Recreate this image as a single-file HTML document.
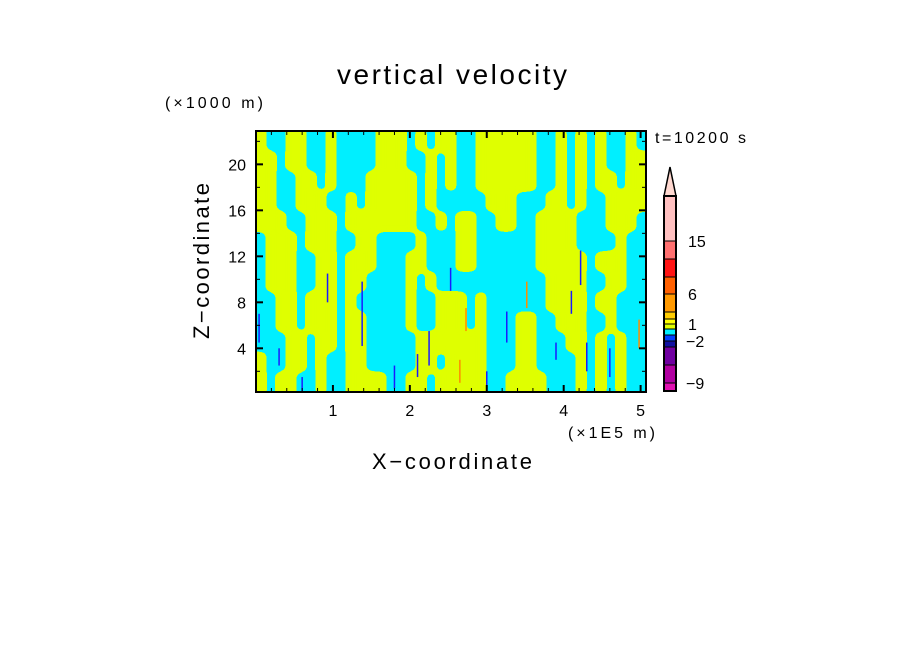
<!DOCTYPE html>
<html><head><meta charset="utf-8"><style>
html,body{margin:0;padding:0;background:#fff}
svg{display:block}
text{font-family:"Liberation Sans",sans-serif;fill:#000}
</style></head><body>
<svg id="chart" width="904" height="654" viewBox="0 0 904 654" xmlns="http://www.w3.org/2000/svg">
<defs>
<clipPath id="plotclip"><rect x="256" y="131" width="390" height="261"/></clipPath>
<filter id="smooth" x="-5%" y="-5%" width="110%" height="110%">
<feGaussianBlur stdDeviation="5,3"/>
<feComponentTransfer><feFuncA type="discrete" tableValues="0 1"/></feComponentTransfer>
</filter>
</defs>
<text x="452" y="84" font-size="28" text-anchor="middle" textLength="230">vertical velocity</text>
<text x="165" y="108" font-size="16" textLength="98">(×1000 m)</text>
<text x="655" y="143" font-size="16" textLength="91">t=10200 s</text>
<text x="568" y="438" font-size="16" textLength="87">(×1E5 m)</text>
<text x="452" y="469" font-size="22" text-anchor="middle" textLength="160">X−coordinate</text>
<text transform="translate(209,261) rotate(-90)" font-size="22" text-anchor="middle" textLength="156">Z−coordinate</text>
<g id="field" clip-path="url(#plotclip)">
<rect x="256" y="131" width="390" height="261" fill="#00efff"/>
<g id="yellowLayer" filter="url(#smooth)"></g>
<g id="spikes"></g>
</g>
<g id="axes"></g>
<g id="colorbar"></g>
</svg>
<script>
// Field: rows from top (z high) to bottom, columns left to right. Y = weak positive (yellow), C = weak negative (cyan)
const fieldRowsLeft = [
"YCCYYCCYCCCCYYYCYCYY","YYCYYCCYCCCCYYYCCYCY","YYCCYYCYCCCYYYYYCYCY","YYCCYYYCCYCYYYYYCYCC",
"YYYCCYYYCYYYYYYYCCYC","CYYYCYYYCCYYCCCCYCCC","CYYYCCYYCYYYCCCYYCCC","CYYYCCYYCYYCCCCYCYCC",
"CCYYCYYYCYCCCCCYCCYY","CCYYCYYYCYYCCCCYCCYY","CCCYYCYYCYYCCCCCYYYY","YCCYYCYCCYYCCCCCYYCY",
"YCYYCCYCCYYYYCCYYCYY"];
const fieldRowsRight = [
"CCYYYYYYCCYCYCYCCYC","CCYYYYYYCCYCYCYCCYY","CCYYYYYYCCYCYCYYCYY","CCCYYYCCCYYCYCCYYYY",
"YYCCYYCCYYYYCCCYYYC","YYCCCCCCYYYYCCCCYCC","YYCCCCCCYYYYYCYYYCC","CCCCCCCCCYYYYCCYYCC",
"YCYCCCCCCYYYYCYYCCC","YCYCCCYYCCYYYCCYCCC","YYYCCCYYCCCYYCYCYCC","YYYCCCYYCCCCYCYCYCC",
"YYYCCYYYYCCCYCYCYCC"];
// Narrow strong updraft/downdraft streaks: x (1E5 m), z bottom, z top (1000 m), sign
const spikeX = [0.04,0.93,1.38,2.25,2.53,2.73,3.26,3.52,4.1,4.22,4.6,4.98,0.3,1.8,2.65,3.0,4.3,0.6,2.1,3.9];
const spikeZ0 = [4.5,8.0,4.2,2.5,9.0,5.5,4.5,7.5,7.0,9.5,1.5,4.0,2.5,0.5,1.0,0.5,2.0,0.2,1.5,3.0];
const spikeZ1 = [7.0,10.5,9.8,5.5,11.0,7.5,7.2,9.8,9.0,12.5,4.0,6.5,4.0,2.5,3.0,2.0,4.5,1.5,3.5,4.5];
const spikeSign = [-1,-1,-1,-1,-1,1,-1,1,-1,-1,-1,1,-1,-1,1,-1,-1,-1,-1,-1];
// axes
const xTicks = [1,2,3,4,5];
const yTicks = [4,8,12,16,20];
// colorbar
const cbColors = ["#e010b0","#b000a0","#7000a0","#1010a0","#0040ff","#00efff","#dfff00","#ffff00","#ffcc00","#ff9900","#ff6000","#ff1414","#ff7070","#ffc0c0"];
const cbLabels = ["−9","−2","1","6","15"];
const cbLabelIdx = [1,4,7,10,13];

const NS="http://www.w3.org/2000/svg";
const X0=256,X1=646,Y0=131,Y1=392;
const xMin=0.0,xMax=5.07,zMin=0.2,zMax=22.9;
function sx(v){return X0+(v-xMin)/(xMax-xMin)*(X1-X0);}
function sy(v){return Y1-(v-zMin)/(zMax-zMin)*(Y1-Y0);}
function mk(tag,attrs,parent){const e=document.createElementNS(NS,tag);for(const k in attrs)e.setAttribute(k,attrs[k]);parent.appendChild(e);return e;}

// field cells
const yl=document.getElementById('yellowLayer');
const nRows=fieldRowsLeft.length;
const rows=fieldRowsLeft.map((r,i)=>r+fieldRowsRight[i]);
const nCols=rows[0].length;
const cw=(X1-X0)/nCols, ch=(Y1-Y0)/nRows;
rows.forEach((row,ri)=>{
  for(let ci=0;ci<nCols;ci++){
    if(row[ci]==='Y'){
      const r=mk('rect',{x:X0+ci*cw-0.5,y:Y0+ri*ch-0.5,width:cw+1,height:ch+1,fill:'#dfff00'},yl);
      
      
    }
  }
});
rows.forEach((row,ri)=>{
  [[0,-14],[nCols-1,X1-X0]].forEach(([ci,off])=>{
    if(row[ci]==='Y'){const r=mk('rect',{x:X0+off,y:Y0+ri*ch,width:14,height:ch,fill:'#dfff00'},yl);
      
      }
  });
});
for(let ci=0;ci<nCols;ci++){
  [[0,-12],[nRows-1,Y1-Y0]].forEach(([ri,off])=>{
    if(rows[ri][ci]==='Y'){const r=mk('rect',{x:X0+ci*cw,y:Y0+off,width:cw,height:12,fill:'#dfff00'},yl);
      
      }
  });
}
// spikes
const sp=document.getElementById('spikes');
spikeX.forEach((x,i)=>{
  const r=mk('rect',{x:sx(x)-0.75,y:sy(spikeZ1[i]),width:1.5,height:sy(spikeZ0[i])-sy(spikeZ1[i]),fill:spikeSign[i]<0?'#1a1aff':'#ff8c00'},sp);
  
  
});

// axes
const ax=document.getElementById('axes');
const frame=mk('rect',{x:X0,y:Y0,width:X1-X0,height:Y1-Y0,fill:'none',stroke:'#000','stroke-width':2},ax);


for(let k=1;k<=25;k++){
  const v=k*0.2; if(v>xMax)break;
  const major=Math.abs(v-Math.round(v))<1e-6; const L=major?7:4; const x=sx(v);
  const t1=mk('line',{x1:x,x2:x,y1:Y1,y2:Y1-L,stroke:'#000','stroke-width':major?2:1},ax);
  
  
  const t2=mk('line',{x1:x,x2:x,y1:Y0,y2:Y0+L,stroke:'#000','stroke-width':major?2:1},ax);
  
  
}
for(let v=2;v<=22;v+=2){
  const major=v%4===0; const L=major?7:4; const y=sy(v);
  const t1=mk('line',{x1:X0,x2:X0+L,y1:y,y2:y,stroke:'#000','stroke-width':major?2:1},ax);
  
  
  const t2=mk('line',{x1:X1,x2:X1-L,y1:y,y2:y,stroke:'#000','stroke-width':major?2:1},ax);
  
  
}
xTicks.forEach(v=>{
  const t=mk('text',{x:sx(v),y:416,'font-size':16,'text-anchor':'middle'},ax);t.textContent=v;
  
  
});
yTicks.forEach(v=>{
  const t=mk('text',{x:246,y:sy(v)+6,'font-size':16,'text-anchor':'end'},ax);t.textContent=v;
  
  
});

// colorbar
const cb=document.getElementById('colorbar');
const cbX=664,cbW=12;
const cbBounds=[391,383,365,347,341,335,329,324,319,312,294,277,259,241,196];
cbColors.forEach((c,i)=>{
  const r=mk('rect',{x:cbX,y:cbBounds[i+1],width:cbW,height:cbBounds[i]-cbBounds[i+1],fill:c,stroke:'#000','stroke-width':1},cb);
  
  
});
const tri=mk('polygon',{points:`${cbX},196 ${cbX+cbW},196 ${cbX+cbW/2},167`,fill:'#ffd8d0',stroke:'#000','stroke-width':1.5},cb);


const outline=mk('rect',{x:cbX,y:196,width:cbW,height:195,fill:'none',stroke:'#000','stroke-width':2},cb);


cbLabels.forEach((lab,i)=>{
  const idx=cbLabelIdx[i];
  const t=mk('text',{x:lab[0]==='−'?686:688,y:cbBounds[idx]+6,'font-size':16},cb);t.textContent=lab;
  
  
});
</script>
</body></html>
